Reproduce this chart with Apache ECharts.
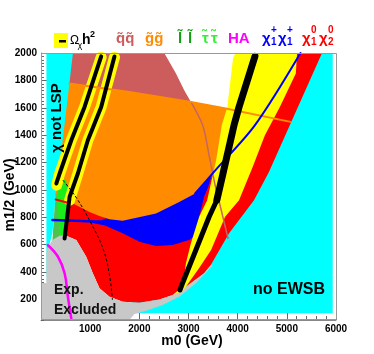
<!DOCTYPE html>
<html>
<head>
<meta charset="utf-8">
<script src="https://cdn.jsdelivr.net/npm/echarts@6/dist/echarts.min.js"></script>
<style>
  html, body { margin: 0; padding: 0; background: #fff; }
  #chart { width: 374px; height: 354px; }
</style>
</head>
<body>
<div id="chart"></div>
<script>
// axis ticks
const yLabelValues = [200, 400, 600, 800, 1000, 1200, 1400, 1600, 1800, 2000];

// regions, [m0, m1/2] in GeV
const noEwsb = [[4400, 2000], [5933, 2000], [5933, 100], [1850, 100], [1850, 300], [3300, 600]];
const redFloor = [[500, 668], [718, 634], [920, 512], [1054, 391], [1190, 281], [1393, 220], [1662, 184],
  [2001, 176], [2406, 200], [2676, 232], [2811, 269], [2947, 293], [3318, 391], [3454, 451]];
const grayLeft = [[1798, 50], [0, 50], [0, 320], [110, 320], [110, 560], [230, 635], [380, 665]];
const grayLow = [[3490, 447], [3150, 318], [2811, 220], [2473, 160], [2136, 118], [1899, 94], [1859, 75]];
const redBandEdge = [[4352, 2000], [5716, 2000], [5076, 1485], [4636, 1130], [4332, 925], [3825, 683]];
const redTop = [[560, 918], [622, 1300], [3800, 1300], [4028, 1606]];
const charginoBlob = [[1000, 776], [1190, 776], [1393, 800], [1662, 810], [2339, 870], [2811, 950], [3136, 1000],
  [3400, 1100], [3460, 1090], [3400, 1022], [3318, 950], [3217, 804], [3150, 670], [3014, 634], [2676, 597],
  [2339, 590], [2001, 621], [1662, 683], [1300, 740], [1000, 762]];
const squarkArea = [[500, 2000], [2507, 2000], [2745, 1850], [2913, 1728], [3049, 1643], [3100, 1600], [500, 1600]];
const gluinoArea = [[300, 1790], [575, 1777], [1798, 1716], [3049, 1643], [3758, 1594], [3900, 1600], [3800, 1473],
  [3640, 1217], [3531, 1137], [3136, 974], [2811, 911], [2339, 828], [1662, 774], [1393, 785], [1190, 810],
  [987, 838], [582, 913], [300, 930]];
const notLsp = [[110, 2000], [650, 2000], [393, 1217], [312, 1006], [257, 780], [231, 683], [142, 561], [110, 320]];
const sleptonArea = [[298, 984], [359, 925], [399, 620], [230, 620], [266, 816], [290, 925]];
const stauArea = [[318, 1026], [420, 1100], [501, 1071], [582, 984], [561, 889], [521, 620], [379, 620], [339, 925]];
const omegaBand = [[3988, 2000], [3930, 1985], [3905, 1960], [3790, 1606], [3677, 1473], [3562, 1217], [3379, 925],
  [3217, 804], [3049, 610], [2947, 464], [2913, 366], [2811, 275], [2700, 235], [2880, 265], [2947, 293],
  [3217, 430], [3460, 561], [3744, 804], [4028, 925], [4311, 1173], [4554, 1400], [4858, 1606], [5183, 1850],
  [5209, 2000]];

// lines
const omegaLineTop = [[4352, 1976], [4028, 1606], [3926, 1473], [3703, 1122], [3576, 925]];
const omegaLineLow = [[3576, 925], [3420, 804], [3150, 561], [2878, 318], [2826, 269]];
const bandA = [[1224, 1969], [886, 1606], [616, 1363], [379, 1120], [318, 1035]];
const coreA = [[1224, 1975], [886, 1606], [616, 1363], [379, 1120], [312, 1047]];
const bandB = [[1494, 1969], [1224, 1606], [953, 1363], [750, 1120], [582, 925]];
const coreB = [[1494, 1975], [1224, 1606], [953, 1363], [750, 1120], [582, 950], [480, 646]];
const charginoEdge = [[5278, 2000], [4352, 1473], [3531, 1137], [3136, 974]];
const charginoLeft = [[231, 781], [700, 775], [1190, 768]];
const gluinoEdge = [[575, 1777], [1798, 1716], [3049, 1643], [3758, 1594], [5076, 1497]];
const squarkEdge = [[3049, 1643], [3290, 1470], [3420, 1250], [3541, 1035], [3602, 947], [3804, 646]];
const neutralinoEdge = [[298, 930], [547, 906]];
const higgsEdge = [[142, 596], [345, 512], [480, 391], [547, 220], [616, 62]];
const squarkDash = [[446, 1071], [724, 940], [1028, 750], [1271, 561], [1393, 378], [1453, 196]];

const chart = echarts.init(document.getElementById('chart'));
const FONT = '"Liberation Sans", Arial, sans-serif';
let zi = 2;

function area(points, color) {
  return {
    type: 'custom', coordinateSystem: 'cartesian2d', clip: true, silent: true, z: zi++,
    data: points,
    renderItem: function (params, api) {
      if (params.dataIndex !== 0) return null;
      return {
        type: 'polygon',
        shape: { points: points.map(function (p) { return api.coord(p); }) },
        style: { fill: color }
      };
    }
  };
}

function stroke(points, color, width, extra) {
  return Object.assign({
    type: 'line', data: points, showSymbol: false, symbol: 'none', silent: true, z: zi++,
    lineStyle: { color: color, width: width, cap: 'round', join: 'round' }
  }, extra || {});
}

function txt(str, x, y, size, color, weight) {
  return {
    type: 'text', x: x, y: y, z: 100,
    style: {
      text: str, fill: color, font: (weight || 'bold') + ' ' + size + 'px ' + FONT,
      align: 'left', verticalAlign: 'middle', textAlign: 'left', textVerticalAlign: 'middle'
    }
  };
}

function ctxt(str, x, y, size, rotation) {
  const t = txt(str, x, y, size, '#000');
  t.rotation = rotation;
  t.style.align = 'center';
  t.style.textAlign = 'center';
  return t;
}

const series = [
  area(noEwsb, '#00ffff'),
  area(redBandEdge.concat(redFloor.slice().reverse(), redTop), '#ff0000'),
  area(charginoBlob, '#0000ff'),
  area(squarkArea, '#cd5c5c'),
  area(gluinoArea, '#ff8c00'),
  area(notLsp, '#00ffff'),
  area(sleptonArea, '#4ec24e'),
  area(stauArea, '#1aee1a'),
  area(grayLeft.concat(redFloor, grayLow), '#c8c8c8'),
  area(omegaBand, '#ffff00'),
  stroke(bandA, '#ffff00', 11),
  stroke(bandB, '#ffff00', 11),
  stroke(squarkEdge, '#c86464', 1.5, { smooth: 0.3 }),
  stroke(gluinoEdge, '#ff8c00', 2),
  stroke(charginoEdge, '#0000ff', 2, { smooth: 0.3 }),
  stroke(charginoLeft, '#0000ff', 2.5),
  stroke(neutralinoEdge, '#ff0000', 2),
  stroke(coreA, '#000000', 4),
  stroke(coreB, '#000000', 4),
  stroke(omegaLineTop, '#000000', 7),
  stroke(omegaLineLow, '#000000', 5),
  stroke(higgsEdge, '#ff00ff', 2.5, { smooth: 0.4 }),
  stroke(squarkDash, '#000000', 1, { smooth: 0.4, lineStyle: { color: '#000', width: 1, type: [3, 2] } })
];

const graphic = [
  { type: 'rect', z: 100, shape: { x: 41.5, y: 53.5, width: 295, height: 266 },
    style: { fill: 'none', stroke: '#999', lineWidth: 1 } },
  { type: 'rect', z: 100, shape: { x: 54, y: 33, width: 14, height: 15 }, style: { fill: '#ffff00' } },
  { type: 'rect', z: 101, shape: { x: 59, y: 40, width: 7, height: 2.5 }, style: { fill: '#000' } },
  txt('Ω', 70, 40.5, 12, '#000', 'normal'),
  txt('χ', 77.5, 46, 9, '#000', 'normal'),
  txt('h', 82, 40, 14, '#000'),
  txt('2', 90, 34.5, 9, '#000'),
  txt('q\u0303q\u0303', 116, 38.8, 15, '#cd5c5c'),
  txt('g\u0303g\u0303', 145, 38.8, 15, '#ff8c00'),
  txt('l\u0303', 178, 38.8, 15, '#12a012'),
  txt('l\u0303', 188, 38.8, 15, '#12a012'),
  txt('τ\u0303', 202, 38.8, 15, '#33ee33'),
  txt('τ\u0303', 211, 38.8, 15, '#33ee33'),
  txt('HA', 228, 38.8, 15, '#ff00ff'),
  txt('χ', 262, 38.8, 15, '#0000ff'),
  txt('+', 271, 30, 10, '#0000ff'),
  txt('1', 271, 42.5, 10, '#0000ff'),
  txt('χ', 278, 38.8, 15, '#0000ff'),
  txt('+', 287, 30, 10, '#0000ff'),
  txt('1', 287, 42.5, 10, '#0000ff'),
  txt('χ', 302, 38.8, 15, '#ff0000'),
  txt('0', 311, 30, 10, '#ff0000'),
  txt('1', 311, 42.5, 10, '#ff0000'),
  txt('χ', 319, 38.8, 15, '#ff0000'),
  txt('0', 328, 30, 10, '#ff0000'),
  txt('2', 328, 42.5, 10, '#ff0000'),
  ctxt('χ not LSP', 57, 118, 15, Math.PI / 2),
  ctxt('m1/2 (GeV)', 10, 195, 14, Math.PI / 2),
  ctxt('m0 (GeV)', 192, 341, 14, 0),
  txt('Exp.', 54, 290, 14, '#111'),
  txt('Excluded', 54, 310, 14, '#111'),
  txt('no EWSB', 253, 290, 16, '#000')
];

const axisText = { fontFamily: FONT, fontWeight: 'bold', fontSize: 10, color: '#000' };

chart.setOption({
  animation: false,
  grid: { left: 41, right: 38, top: 53, bottom: 34, show: false, containLabel: false, outerBoundsMode: 'none' },
  xAxis: {
    type: 'value', min: 0, max: 6000, interval: 1000,
    axisLine: { show: true, lineStyle: { color: '#888' } },
    axisTick: { inside: true, length: 7, lineStyle: { color: '#666' } },
    minorTick: { show: true, splitNumber: 5, length: 4, lineStyle: { color: '#666' } },
    axisLabel: Object.assign({ margin: 4, formatter: function (v) { return v === 0 ? '' : String(v); } }, axisText),
    splitLine: { show: false }
  },
  yAxis: [{
    type: 'value', min: 50, max: 2000,
    axisLine: { show: true, lineStyle: { color: '#888' } },
    axisTick: { inside: true, length: 6, customValues: yLabelValues, lineStyle: { color: '#666' } },
    axisLabel: Object.assign({ margin: 4, customValues: yLabelValues, formatter: function (v) { return String(v); } }, axisText),
    splitLine: { show: false }
  }, {
    type: 'value', min: 50, max: 2000, interval: 25, position: 'left', offset: 0,
    axisLine: { show: false },
    axisTick: { inside: true, length: 3, lineStyle: { color: '#666' } },
    axisLabel: { show: false },
    splitLine: { show: false }
  }],
  series: series,
  graphic: graphic
});
</script>
</body>
</html>
